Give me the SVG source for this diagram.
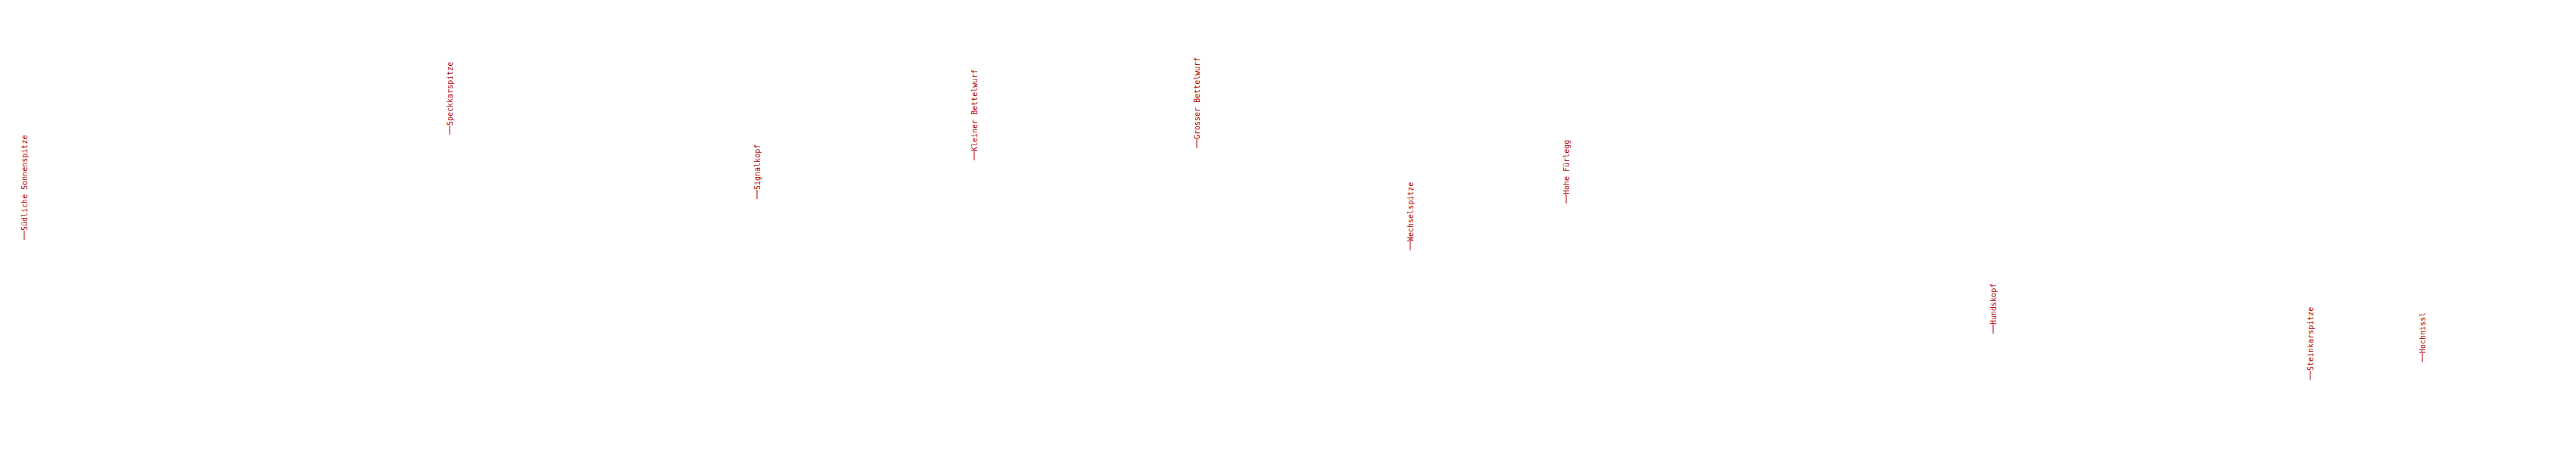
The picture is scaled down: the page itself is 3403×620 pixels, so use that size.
<svg xmlns="http://www.w3.org/2000/svg" width="3403" height="620" viewBox="0 0 3403 620">
<style>
.lbl{font-family:"DejaVu Sans Mono","Liberation Mono",monospace;font-size:10px;fill:#b00000}
.tick{stroke:#b00000;stroke-width:1}
</style>
<defs>
<g id="tk"><line class="tick" x1="0" y1="0" x2="0" y2="-12"/></g>
</defs>
<rect width="3403" height="620" fill="#ffffff"/>
<g id="peak-suedliche-sonnenspitze" transform="translate(32,317)"><use href="#tk"/><text class="lbl" transform="translate(0,-12) rotate(-90)" y="4">Südliche Sonnenspitze</text></g>
<g id="peak-speckkarspitze" transform="translate(594,178)"><use href="#tk"/><text class="lbl" transform="translate(0,-12) rotate(-90)" y="4">Speckkarspitze</text></g>
<g id="peak-signalkopf" transform="translate(1000,263)"><use href="#tk"/><text class="lbl" transform="translate(0,-12) rotate(-90)" y="4">Signalkopf</text></g>
<g id="peak-kleiner-bettelwurf" transform="translate(1287,212)"><use href="#tk"/><text class="lbl" transform="translate(0,-12) rotate(-90)" y="4">Kleiner Bettelwurf</text></g>
<g id="peak-grosser-bettelwurf" transform="translate(1581,196)"><use href="#tk"/><text class="lbl" transform="translate(0,-12) rotate(-90)" y="4">Grosser Bettelwurf</text></g>
<g id="peak-wechselspitze" transform="translate(1863,331)"><use href="#tk"/><text class="lbl" transform="translate(0,-12) rotate(-90)" y="4">Wechselspitze</text></g>
<g id="peak-hohe-fuerlegg" transform="translate(2069,269)"><use href="#tk"/><text class="lbl" transform="translate(0,-12) rotate(-90)" y="4">Hohe Fürlegg</text></g>
<g id="peak-hundskopf" transform="translate(2633,441)"><use href="#tk"/><text class="lbl" transform="translate(0,-12) rotate(-90)" y="4">Hundskopf</text></g>
<g id="peak-steinkarspitze" transform="translate(3052,502)"><use href="#tk"/><text class="lbl" transform="translate(0,-12) rotate(-90)" y="4">Steinkarspitze</text></g>
<g id="peak-hochnissl" transform="translate(3200,479)"><use href="#tk"/><text class="lbl" transform="translate(0,-12) rotate(-90)" y="4">Hochnissl</text></g>
<g id="connectors"/>
</svg>
